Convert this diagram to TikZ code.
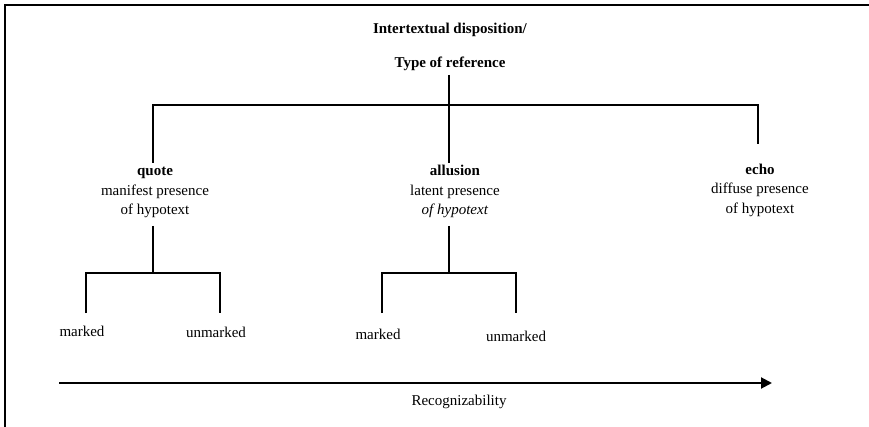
\documentclass[tikz,border=0pt]{standalone}
\usepackage{fontspec}
\setmainfont{Liberation Serif}
\usetikzlibrary{arrows.meta}
\begin{document}
\begin{tikzpicture}[x=1pt,y=-1pt,
  lbl/.style={inner sep=0pt, font=\fontsize{15}{19.5}\selectfont, align=center, anchor=base},
  treeline/.style={line width=1.8pt},
  framel/.style={line width=2.4pt},
  axis/.style={line width=2pt,-{Triangle[length=11pt,width=11pt]}}
]
\useasboundingbox (0,0) rectangle (869,427);
\draw[framel] (5,432) -- (5,5) -- (875,5);

% anchor=base of a multi-line node is the baseline of its last line
\node[lbl] (root) at (450,68) {\textbf{Intertextual disposition/}\\[14.5pt]\textbf{Type of reference}};

\node[lbl] (quote) at (155,215) {\textbf{quote}\\manifest presence\\of hypotext};
\node[lbl] (allusion) at (455,215) {\textbf{allusion}\\latent presence\\\textit{of hypotext}};
\node[lbl] (echo) at (760,213.5) {\textbf{echo}\\diffuse presence\\of hypotext};

\node[lbl] (qm) at (82,336) {marked};
\node[lbl] (qu) at (216,337) {unmarked};
\node[lbl] (am) at (378,339) {marked};
\node[lbl] (au) at (516,341) {unmarked};
\node[lbl] (rec) at (459,405) {Recognizability};

\coordinate (r0) at (449,75);
\coordinate (rbar) at (449,105);
\coordinate (qtop) at (153,163);
\coordinate (alltop) at (449,163);
\coordinate (etop) at (758,144);
\draw[treeline] (r0) -- (alltop);
\draw[treeline] (qtop) -- (qtop |- rbar) -- (etop |- rbar) -- (etop);

\coordinate (qsub) at (153,226);
\coordinate (qj) at (153,273);
\coordinate (qml) at (86,313);
\coordinate (qul) at (220,313);
\draw[treeline] (qsub) -- (qj);
\draw[treeline] (qml) -- (qml |- qj) -- (qul |- qj) -- (qul);

\coordinate (asub) at (449,226);
\coordinate (aj) at (449,273);
\coordinate (aml) at (382,313);
\coordinate (aul) at (516,313);
\draw[treeline] (asub) -- (aj);
\draw[treeline] (aml) -- (aml |- aj) -- (aul |- aj) -- (aul);

\coordinate (a0) at (59,383);
\coordinate (a1) at (772,383);
\draw[axis] (a0) -- (a1);
\end{tikzpicture}
\end{document}
